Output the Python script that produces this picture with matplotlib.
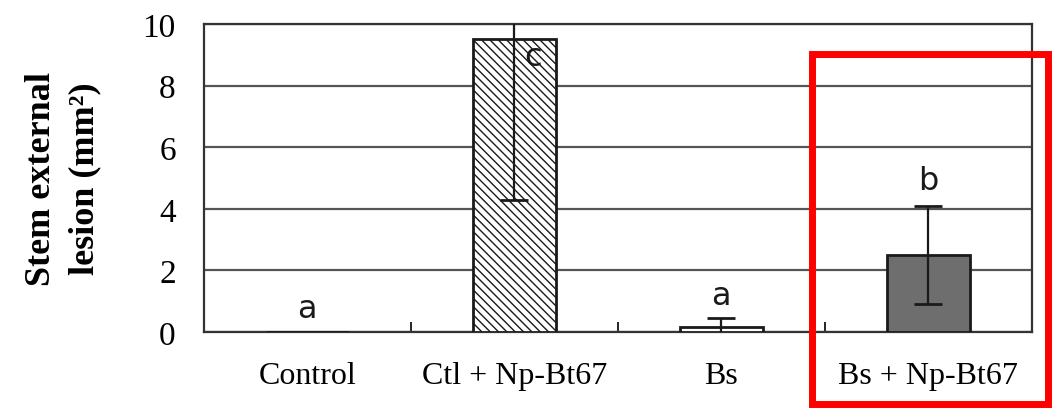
import matplotlib.pyplot as plt
from matplotlib.patches import Rectangle

categories = ["Control", "Ctl + Np-Bt67", "Bs", "Bs + Np-Bt67"]
lesion_means = [0.0, 9.5, 0.15, 2.5]
lesion_errors = [0.0, 5.2, 0.3, 1.6]
group_letters = ["a", "c", "a", "b"]
letter_y = [0.25, 8.45, 0.68, 4.4]
letter_x_offset = [0.0, 0.09, 0.0, 0.0]

serif = "Liberation Serif"

fig = plt.figure(figsize=(10.55, 4.1), dpi=100)
ax = fig.add_axes([0.193, 0.188, 0.785, 0.751])

x = range(len(categories))
facecolors = ["white", "white", "white", "#6e6e6e"]
hatches = [None, "\\\\\\\\", None, None]
for i in x:
    ax.bar(i, lesion_means[i], width=0.4, color=facecolors[i], edgecolor="#1a1a1a",
           linewidth=2, hatch=hatches[i], zorder=3)
    if lesion_errors[i] > 0:
        ax.errorbar(i, lesion_means[i], yerr=lesion_errors[i], fmt="none", ecolor="#1a1a1a",
                    elinewidth=1.6, capsize=10, capthick=2, zorder=4)
    ax.text(i + letter_x_offset[i], letter_y[i], group_letters[i], ha="center", va="bottom",
            fontsize=23, family="DejaVu Sans", color="#1a1a1a", zorder=5)

ax.set_xlim(-0.5, 3.5)
ax.set_ylim(0, 10)
ax.set_yticks([0, 2, 4, 6, 8, 10])
ax.grid(axis="y", color="#555555", linewidth=1.6, zorder=0)
ax.set_xticks(list(x))
ax.set_xticklabels(categories, family=serif, fontsize=23)
ax.set_xticks([0.5, 1.5, 2.5], minor=True)
ax.tick_params(axis="x", which="major", length=0, pad=21)
ax.tick_params(axis="x", which="minor", direction="in", length=7, width=1.2)
ax.tick_params(axis="y", length=0, pad=20, labelsize=24)
for lab in ax.get_yticklabels():
    lab.set_family(serif)
for side in ["left", "right", "bottom", "top"]:
    ax.spines[side].set_linewidth(1.6)
    ax.spines[side].set_color("#333333")

ax.set_ylabel("Stem external\nlesion (mm²)", family=serif, fontsize=26,
              fontweight="bold", labelpad=30, linespacing=1.4)

# highlight box around the last treatment
fig.patches.append(Rectangle((812 / 1055, 1 - 405 / 410), 236 / 1055, 350 / 410,
                             transform=fig.transFigure, fill=False,
                             edgecolor="#ff0000", linewidth=5))

fig.savefig("out.png", dpi=100)
